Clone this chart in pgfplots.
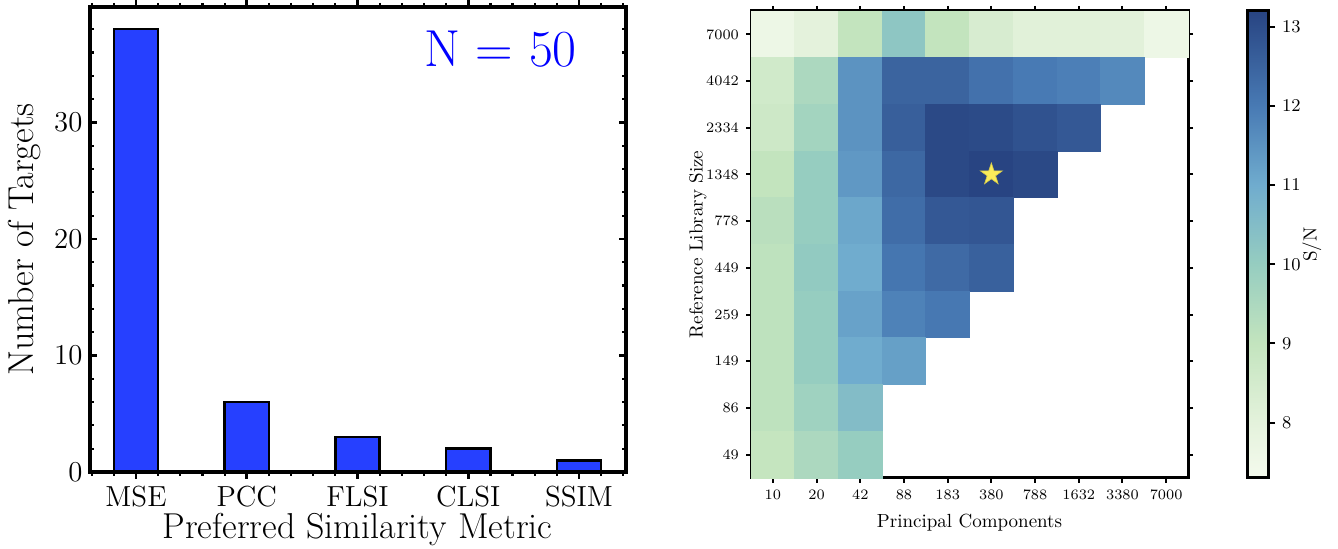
\documentclass[border=0pt]{standalone}
\usepackage{pgfplots}
\pgfplotsset{compat=1.18}
\definecolor{barblue}{RGB}{38,64,255}
\definecolor{staryellow}{RGB}{250,236,90}
\pgfplotsset{colormap={snr}{rgb255(7.3cm)=(244,250,237) rgb255(8cm)=(228,242,220) rgb255(9cm)=(195,228,190) rgb255(10cm)=(150,205,192) rgb255(11cm)=(112,172,206) rgb255(12cm)=(72,122,180) rgb255(13.2cm)=(40,68,130)}}
\pgfdeclareplotmark{fstar}{%
 \pgfpathmoveto{\pgfpointpolar{90}{\pgfplotmarksize}}%
 \pgfpathlineto{\pgfpointpolar{126}{0.382\pgfplotmarksize}}%
 \pgfpathlineto{\pgfpointpolar{162}{\pgfplotmarksize}}%
 \pgfpathlineto{\pgfpointpolar{198}{0.382\pgfplotmarksize}}%
 \pgfpathlineto{\pgfpointpolar{234}{\pgfplotmarksize}}%
 \pgfpathlineto{\pgfpointpolar{270}{0.382\pgfplotmarksize}}%
 \pgfpathlineto{\pgfpointpolar{306}{\pgfplotmarksize}}%
 \pgfpathlineto{\pgfpointpolar{342}{0.382\pgfplotmarksize}}%
 \pgfpathlineto{\pgfpointpolar{18}{\pgfplotmarksize}}%
 \pgfpathlineto{\pgfpointpolar{54}{0.382\pgfplotmarksize}}%
 \pgfpathclose
 \pgfusepathqfillstroke}
\begin{document}
\begin{tikzpicture}
\path[use as bounding box] (0,0) rectangle (669pt,274.5pt);
\begin{axis}[
  at={(44.75pt,38.5pt)}, anchor=south west, scale only axis,
  width=268pt, height=232.5pt,
  xmin=-0.42, xmax=4.42, ymin=0, ymax=39.9,
  xtick={0,1,2,3,4}, xticklabels={MSE,PCC,FLSI,CLSI,SSIM},
  minor xtick={-0.4,-0.2,0.2,0.4,0.6,0.8,1.2,1.4,1.6,1.8,2.2,2.4,2.6,2.8,3.2,3.4,3.6,3.8,4.2,4.4},
  ytick={0,10,20,30},
  minor ytick={2,4,6,8,12,14,16,18,22,24,26,28,32,34,36,38},
  tick align=inside,
  major tick length=3.5pt, minor tick length=2pt,
  major tick style={line width=1.3pt, black},
  minor tick style={line width=1.1pt, black},
  axis line style={line width=2pt},
  axis on top,
  ticklabel style={font=\fontsize{14.5}{16}\selectfont},
  label style={font=\fontsize{18}{20}\selectfont},
  xlabel={Preferred Similarity Metric}, ylabel={Number of Targets},
  xlabel style={yshift=4pt},
  ybar, bar width=0.4,
]
\addplot[fill=barblue, draw=black, line width=1.25pt] coordinates {(0,38) (1,6) (2,3) (3,2) (4,1)};
\node[anchor=base east, text=blue, font=\fontsize{26}{30}\selectfont, inner sep=0pt] at (rel axis cs:0.91,0.871) {N = 50};
\end{axis}
\begin{axis}[
  at={(375.5pt,35.5pt)}, anchor=south west, scale only axis,
  width=218.5pt, height=233.5pt,
  xmin=-0.5, xmax=9.5, ymin=-0.5, ymax=9.5,
  xtick={0,...,9}, xticklabels={10,20,42,88,183,380,788,1632,3380,7000},
  ytick={0,...,9}, yticklabels={49,86,149,259,449,778,1348,2334,4042,7000},
  tick align=outside, major tick length=2.5pt,
  major tick style={line width=1pt, black},
  axis line style={line width=1.5pt},
  axis on top,
  ticklabel style={font=\fontsize{7.2}{8}\selectfont},
  label style={font=\fontsize{9.5}{11}\selectfont},
  xlabel={Principal Components}, ylabel={Reference Library Size},
  ylabel shift=-7pt,
  colormap name=snr,
  point meta min=7.3, point meta max=13.2,
  colorbar,
  colorbar style={
    at={(parent axis.north east)}, anchor=north west, xshift=21pt,
    width=10.5pt,
    ytick={8,9,10,11,12,13},
    ytick pos=right,
    tick align=outside, major tick length=3.5pt,
    major tick style={line width=1pt, black},
    axis line style={line width=1.5pt},
    yticklabel style={font=\fontsize{8.6}{10}\selectfont},
    ylabel={S/N},
    ylabel shift=-6pt,
    ylabel style={font=\fontsize{9.5}{11}\selectfont},
  },
]
\addplot[scatter, only marks, mark=square*, mark size=10.925pt,
  point meta=explicit,
  scatter/use mapped color={draw=mapped color, fill=mapped color},
  every mark/.append style={yscale=1.0687, line width=0.4pt}]
  table[meta=v] {
x y v
0 9 7.6
1 9 8.0
2 9 9.0
3 9 10.2
4 9 9.0
5 9 8.4
6 9 8.1
7 9 8.1
8 9 8.05
9 9 7.6
0 8 8.6
1 8 9.5
2 8 11.5
3 8 12.5
4 8 12.5
5 8 12.2
6 8 12.0
7 8 11.9
8 8 11.7
0 7 8.7
1 7 9.7
2 7 11.5
3 7 12.6
4 7 13.1
5 7 13.05
6 7 12.9
7 7 12.75
0 6 9.0
1 6 10.0
2 6 11.4
3 6 12.4
4 6 13.1
5 6 13.2
6 6 13.1
0 5 9.2
1 5 10.0
2 5 11.1
3 5 12.3
4 5 12.75
5 5 12.8
0 4 9.1
1 4 10.1
2 4 11.0
3 4 12.1
4 4 12.35
5 4 12.55
0 3 9.1
1 3 10.0
2 3 11.2
3 3 11.85
4 3 12.05
0 2 9.1
1 2 10.0
2 2 11.0
3 2 11.25
0 1 9.1
1 1 9.8
2 1 10.5
0 0 8.95
1 0 9.5
2 0 10.0
};
\addplot[only marks, mark=fstar, mark size=5.8pt, fill=staryellow, draw=staryellow!85!black, line width=0.3pt] coordinates {(5,6)};
\end{axis}
\end{tikzpicture}
\end{document}
